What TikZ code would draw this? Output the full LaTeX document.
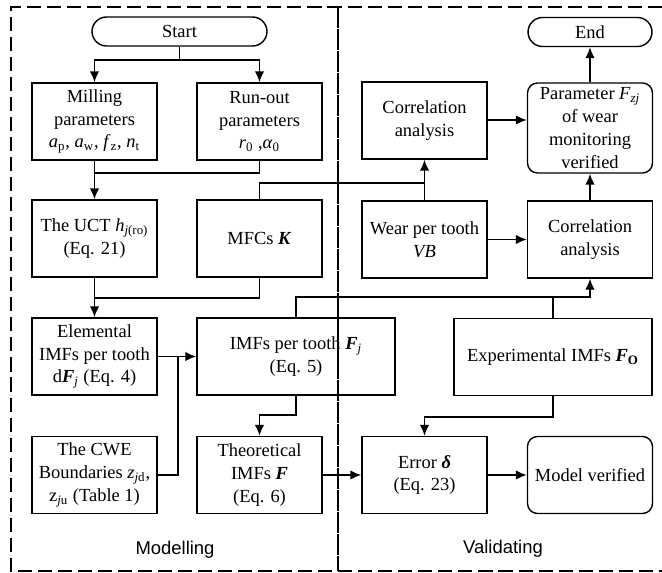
\documentclass[tikz,border=0pt]{standalone}
\usepackage{fontspec}
\setmainfont{Liberation Serif}
\setsansfont{Liberation Sans}
\usetikzlibrary{arrows.meta,positioning}
\newcommand{\mi}[1]{\textit{#1}}
\newcommand{\lowidx}[1]{\textsubscript{#1}}
\newcommand{\bvec}[1]{\textbf{\textit{#1}}}
\begin{document}
\begin{tikzpicture}[x=0.02cm,y=-0.02cm,>=Latex,
  stepbox/.style={draw,line width=0.8pt,minimum width=2.5cm,minimum height=1.54cm,align=center,inner sep=1pt,font=\fontsize{10.5}{13}\selectfont},
  widebox/.style={stepbox,minimum width=3.96cm},
  endbox/.style={stepbox,rounded corners=0.2cm},
  termbox/.style={stepbox,rounded corners=0.29cm,minimum height=0.58cm},
  flow/.style={line width=1pt},
  arr/.style={flow,-{Latex[length=2.2mm,width=1.9mm]}},
  frame/.style={line width=0.8pt,dash pattern=on 8pt off 3.4pt},
  part/.style={font=\sffamily\fontsize{10.5}{13}\selectfont}]
\useasboundingbox (0,0) rectangle (662,573);
% frame of the two parts
\draw[frame] (662,7) -- (11,7) -- (11,571) -- (662,571);
\draw[line width=0.8pt,dash pattern=on 12pt off 0.5pt] (338,7) -- (338,571);
\node[part] (modl) at (175,550) {Modelling};
\node[part] (vald) at (503,549) {Validating};
% modelling
\node[termbox,minimum width=3.5cm] (start) at (179.5,31.5) {Start};
\node[stepbox] (mill) at (94.5,121.5) {Milling\\parameters\\\mi{a}\lowidx{p}, \mi{a}\lowidx{w}, \mi{f}\lowidx{z}, \mi{n}\lowidx{t}};
\node[stepbox] (runout) at (259.5,121.5) {Run-out\\parameters\\\mi{r}\lowidx{0} ,\mi{α}\lowidx{0}};
\node[stepbox] (uct) at (94.5,238.5) {The UCT \mi{h}\lowidx{\mi{j}(ro)}\\(Eq. 21)};
\node[stepbox] (mfc) at (259.5,238.5) {MFCs \bvec{K}};
\node[stepbox] (elem) at (94.5,356.5) {Elemental\\IMFs per tooth\\d\bvec{F}\lowidx{\mi{j}} (Eq. 4)};
\node[widebox] (imf) at (296,356.5) {IMFs per tooth \bvec{F}\lowidx{\mi{j}}\\(Eq. 5)};
\node[stepbox] (cwe) at (94.5,475) {The CWE\\Boundaries \mi{z}\lowidx{\mi{j}d},\\z\lowidx{\mi{j}u} (Table 1)};
\node[stepbox] (theo) at (259.5,475) {Theoretical\\IMFs \bvec{F}\\(Eq. 6)};
% validating
\node[stepbox] (corra) at (424.5,120.5) {Correlation\\analysis};
\node[termbox,minimum width=2.48cm] (end) at (590,32) {End};
\node[endbox,minimum height=1.8cm] (param) at (590,128) {Parameter \mi{F}\lowidx{\mi{zj}}\\of wear\\monitoring\\verified};
\node[stepbox] (wear) at (424.5,239.5) {Wear per tooth\\\mi{VB}};
\node[stepbox] (corrb) at (590,239.5) {Correlation\\analysis};
\node[widebox] (exp) at (553,357) {Experimental IMFs \bvec{F}\lowidx{\textbf{O}}};
\node[stepbox] (err) at (424.5,475) {Error \bvec{δ}\\(Eq. 23)};
\node[endbox] (model) at (590,475) {Model verified};
% junctions
\coordinate (j1) at (179.5,60);
\coordinate (j2) at (94.5,173);
\coordinate (j3) at (94.5,298);
\coordinate (j4) at (424.5,183);
\coordinate (j5) at (590,297);
\coordinate (j6) at (178,356.5);
\coordinate (j7) at (259.5,415);
\coordinate (j8) at (424.5,417);
% connectors
\draw[flow] (start) -- (j1);
\draw[arr] (j1) -| (mill);
\draw[arr] (j1) -| (runout);
\draw[arr] (mill) -- (uct);
\draw[flow] (runout) |- (j2);
\draw[arr] (uct) -- (elem);
\draw[flow] (mfc) |- (j3);
\draw[flow] (mfc) |- (j4);
\draw[arr] (wear) -- (corra);
\draw[arr] (corra.east |- 0,120) -- (param.west |- 0,120);
\draw[arr] (param) -- (end);
\draw[arr] (corrb) -- (param);
\draw[arr] (wear) -- (corrb);
\draw[arr] (imf.north) |- (j5) -- (corrb);
\draw[flow] (exp) -- (exp.north |- j5);
\draw[arr] (elem) -- (imf);
\draw[flow] (cwe) -| (j6);
\draw[arr] (imf.south) |- (j7) -- (theo);
\draw[arr] (theo) -- (err);
\draw[arr] (exp.south) |- (j8) -- (err);
\draw[arr] (err) -- (model);
\end{tikzpicture}
\end{document}
